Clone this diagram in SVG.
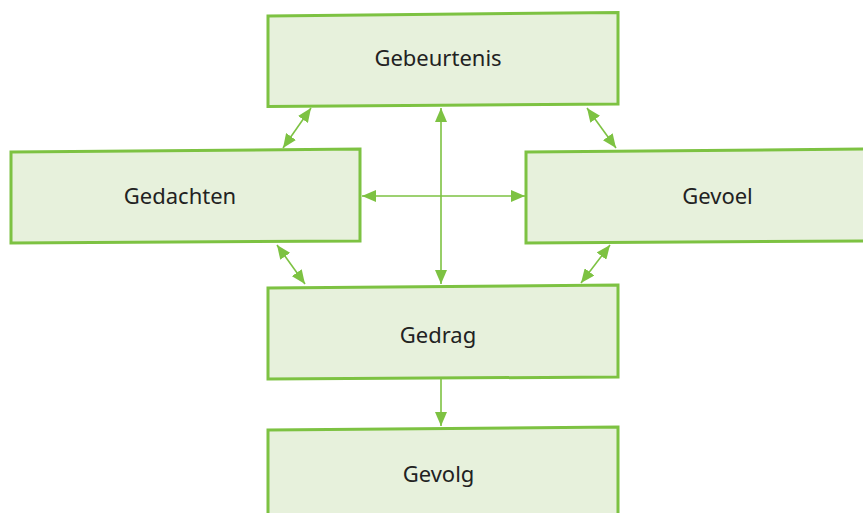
<svg xmlns="http://www.w3.org/2000/svg" width="863" height="513" viewBox="0 0 863 513">
<style>
.box{fill:#e7f1dc;stroke:#7dc242;stroke-width:3;stroke-linejoin:miter}
.lbl{font-family:"Noto Sans","Open Sans","DejaVu Sans",sans-serif;font-size:22px;fill:#222;text-anchor:middle}
.con{stroke:#7dc242;stroke-width:1.6;fill:none}
</style>
<defs>
<marker id="ah" viewBox="0 0 14 12" refX="14" refY="6" markerWidth="14" markerHeight="12" markerUnits="userSpaceOnUse" orient="auto-start-reverse">
<path d="M0,0 L14,6 L0,12 Z" fill="#7dc242"/>
</marker>
</defs>
<rect width="863" height="513" fill="#fff"/>
<g id="connectors">
<line class="con" x1="441" y1="108" x2="441" y2="284" marker-start="url(#ah)" marker-end="url(#ah)"/>
<line class="con" x1="362" y1="196" x2="525" y2="196" marker-start="url(#ah)" marker-end="url(#ah)"/>
<line class="con" x1="311" y1="108" x2="283" y2="148" marker-start="url(#ah)" marker-end="url(#ah)"/>
<line class="con" x1="587" y1="108" x2="616" y2="148" marker-start="url(#ah)" marker-end="url(#ah)"/>
<line class="con" x1="277" y1="245" x2="305" y2="284" marker-start="url(#ah)" marker-end="url(#ah)"/>
<line class="con" x1="610" y1="245" x2="581" y2="283" marker-start="url(#ah)" marker-end="url(#ah)"/>
<line class="con" x1="441" y1="378" x2="441" y2="426" marker-end="url(#ah)"/>
</g>
<g id="gebeurtenis">
<polygon class="box" points="268,16 618,12.5 618,104 268,106.5"/>
<text class="lbl" x="438" y="66">Gebeurtenis</text>
</g>
<g id="gedachten">
<polygon class="box" points="11,152 360,149 360,241 11,243"/>
<text class="lbl" x="180" y="204">Gedachten</text>
</g>
<g id="gevoel">
<polygon class="box" points="526,152 865,149 865,241 526,243"/>
<text class="lbl" x="717.5" y="204">Gevoel</text>
</g>
<g id="gedrag">
<polygon class="box" points="268,288 618,285 618,377 268,379"/>
<text class="lbl" x="438" y="343">Gedrag</text>
</g>
<g id="gevolg">
<polygon class="box" points="268,430 618,427 618,520 268,520"/>
<text class="lbl" x="438.5" y="482">Gevolg</text>
</g>
</svg>
